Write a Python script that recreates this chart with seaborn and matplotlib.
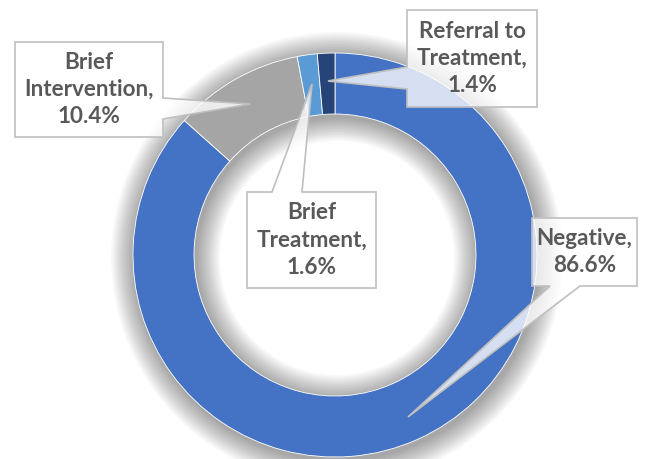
import textwrap
import matplotlib
matplotlib.use("Agg")
import matplotlib.pyplot as plt
from matplotlib.patches import Polygon, Wedge
import seaborn as sns

categories = ["Negative", "Brief Intervention", "Brief Treatment", "Referral to Treatment"]
shares = [86.6, 10.4, 1.6, 1.4]
colors = ["#4472C4", "#A5A5A5", "#5B9BD5", "#264478"]

sns.set_style("white")
plt.rcParams["font.family"] = ["Lato", "DejaVu Sans"]

W, H = 647, 460
fig = plt.figure(figsize=(6.47, 4.60), dpi=100)
ax = fig.add_axes([0, 0, 1, 1])

cx, cy = 335, H - 256
r_out, ring = 202, 61

# soft shadow around the ring
for k in range(16):
    d = 1.5 * (k + 1)
    ax.add_patch(Wedge((cx + 2, cy - 3), r_out + d, 0, 360, width=ring + 2 * d,
                       facecolor="#000000", alpha=0.022, lw=0, zorder=1))

wedges, _ = ax.pie(shares, colors=colors, startangle=90, counterclock=False,
                   center=(cx, cy), radius=r_out, frame=True,
                   wedgeprops=dict(width=ring, edgecolor="white", linewidth=0.6))
for w in wedges:
    w.set_zorder(2)
ax.set_xlim(0, W)
ax.set_ylim(0, H)
ax.set_aspect("equal")
ax.axis("off")


def callout(box, side, base, tip):
    x0, y0, x1, y1 = box
    a, b = base
    if side == "right":
        pts = [(x0, y0), (x1, y0), (x1, a), tip, (x1, b), (x1, y1), (x0, y1)]
    elif side == "left":
        pts = [(x0, y0), (x1, y0), (x1, y1), (x0, y1), (x0, b), tip, (x0, a)]
    elif side == "top":
        pts = [(x0, y0), (a, y0), tip, (b, y0), (x1, y0), (x1, y1), (x0, y1)]
    else:
        pts = [(x0, y0), (x1, y0), (x1, y1), (b, y1), tip, (a, y1), (x0, y1)]
    pts = [(x, H - y) for x, y in pts]
    ax.add_patch(Polygon(pts, closed=True, facecolor="white", alpha=0.78,
                         edgecolor="none", zorder=5))
    ax.add_patch(Polygon(pts, closed=True, facecolor="none",
                         edgecolor="#BFBFBF", lw=1.2, zorder=6))


# box (x0, y0, x1, y1), pointer side, pointer base, pointer tip  (pixels)
layout = {
    "Negative": ((532, 219, 637, 287), "bottom", (550, 580), (408, 418)),
    "Brief Intervention": ((15, 43, 163, 138), "right", (99, 120), (250, 105)),
    "Brief Treatment": ((247, 193, 376, 289), "top", (272, 302), (312, 85)),
    "Referral to Treatment": ((407, 11, 537, 108), "left", (68, 90), (328, 82)),
}

for name, val in zip(categories, shares):
    box, side, base, tip = layout[name]
    callout(box, side, base, tip)
    label = "\n".join(textwrap.wrap(f"{name},", 12, break_long_words=False)) + f"\n{val:.1f}%"
    ax.text((box[0] + box[2]) / 2, H - (box[1] + box[3]) / 2 + 1, label,
            ha="center", va="center", fontsize=16.2, fontweight="bold",
            color="#595959", linespacing=1.38, zorder=7)

fig.savefig("out.png", dpi=100)
